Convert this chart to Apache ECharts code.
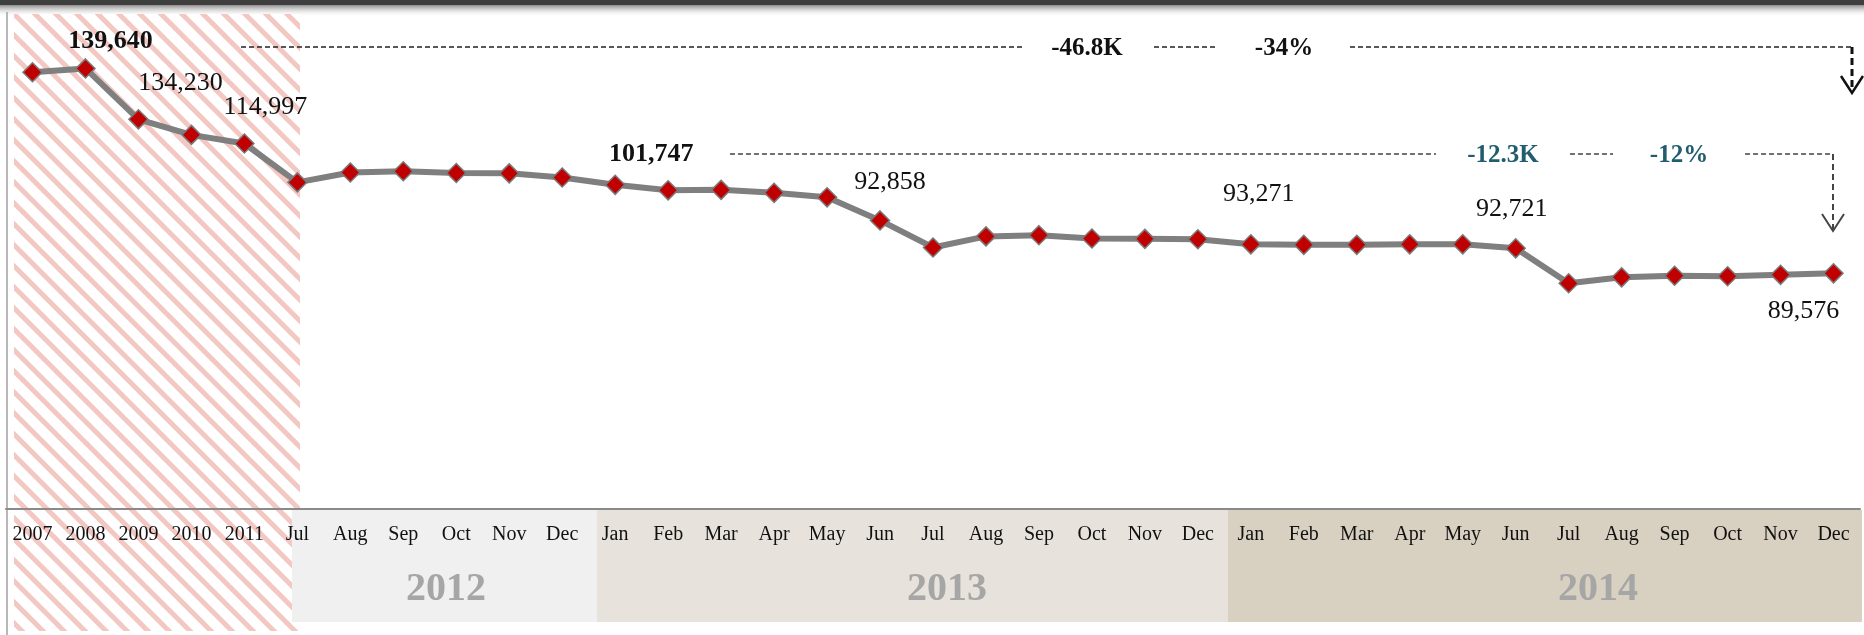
<!DOCTYPE html>
<html>
<head>
<meta charset="utf-8">
<title>trend</title>
<script src="https://cdn.jsdelivr.net/npm/echarts@6/dist/echarts.min.js"></script>
<style>
  html, body { margin: 0; padding: 0; background: #fff; }
  #main { width: 1864px; height: 635px; }
</style>
</head>
<body>
<div id="main"></div>
<script>
// categories: 5 years, then months Jul 2012 .. Dec 2014
var categories = ['2007', '2008', '2009', '2010', '2011',
  'Jul', 'Aug', 'Sep', 'Oct', 'Nov', 'Dec',
  'Jan', 'Feb', 'Mar', 'Apr', 'May', 'Jun', 'Jul', 'Aug', 'Sep', 'Oct', 'Nov', 'Dec',
  'Jan', 'Feb', 'Mar', 'Apr', 'May', 'Jun', 'Jul', 'Aug', 'Sep', 'Oct', 'Nov', 'Dec'];

var values = [138700, 139640, 127200, 123400, 121300,
  111800, 114200, 114500, 114100, 114000, 113000,
  111200, 109850, 109970, 109240, 108140, 102500, 95900, 98600, 98900, 98100, 98000, 97900,
  96660, 96540, 96540, 96660, 96660, 95680, 87140, 88600, 88970, 88850, 89210, 89576];

// text shown next to some points (index -> text)
var pointLabelIdx = [1, 2, 4, 11, 16, 23, 28, 34];
var pointLabelText = ['139,640', '134,230', '114,997', '101,747', '92,858', '93,271', '92,721', '89,576'];
var boldLabelIdx = [1, 11];

var yearNames = ['2012', '2013', '2014'];
var changeTotal = ['-46.8K', '-34%'];
var changeRecent = ['-12.3K', '-12%'];

// where each point label sits relative to its point
var labelOffsets = {1: [25, -27], 2: [42, -36], 4: [21, -36], 11: [36, -31],
  16: [10, -38], 23: [8, -50], 28: [-4, -39], 34: [-30, 38]};

var FONT = "'Liberation Serif', 'Times New Roman', serif";

function hatchPattern() {
  var p = 21;
  var c = document.createElement('canvas');
  c.width = p; c.height = p;
  var ctx = c.getContext('2d');
  ctx.fillStyle = '#ffffff';
  ctx.fillRect(0, 0, p, p);
  ctx.strokeStyle = '#f3c8c3';
  ctx.lineWidth = 5;
  for (var k = -1; k <= 1; k++) {
    ctx.beginPath();
    ctx.moveTo(k * p - 2, -2);
    ctx.lineTo(k * p + p + 2, p + 2);
    ctx.stroke();
  }
  return {image: c, repeat: 'repeat'};
}

var seriesData = values.map(function (v, i) {
  var k = pointLabelIdx.indexOf(i);
  if (k < 0) return v;
  return {
    value: v,
    label: {
      show: true,
      position: 'inside',
      offset: labelOffsets[i],
      formatter: pointLabelText[k],
      fontFamily: FONT,
      fontSize: 26,
      color: '#111',
      fontWeight: boldLabelIdx.indexOf(i) >= 0 ? 'bold' : 'normal'
    }
  };
});

function dash(x1, y1, x2, y2, color, w, dashArr) {
  return {
    type: 'line', z: 20, silent: true,
    shape: {x1: x1, y1: y1, x2: x2, y2: y2},
    style: {stroke: color, lineWidth: w, lineDash: dashArr || [5, 3]}
  };
}
function vArrow(x, y, color, w) {
  return {
    type: 'polyline', z: 20, silent: true,
    shape: {points: [[x - 11, y - 17], [x, y], [x + 11, y - 17]]},
    style: {stroke: color, lineWidth: w, fill: null}
  };
}
function txt(x, y, s, size, color, weight) {
  return {
    type: 'text', z: 20, silent: true, x: x, y: y,
    style: {text: s, fontFamily: FONT, fontSize: size, fill: color, fontWeight: weight || 'normal',
      align: 'center', verticalAlign: 'middle'}
  };
}

var graphics = [
  // top bar + shadow
  {type: 'rect', z: -5, shape: {x: 0, y: 0, width: 1864, height: 5}, style: {fill: '#3e3e3e'}},
  {type: 'rect', z: -5, shape: {x: 0, y: 5, width: 1864, height: 12},
    style: {fill: new echarts.graphic.LinearGradient(0, 0, 0, 1, [
      {offset: 0, color: '#8e8e8e'}, {offset: 1, color: 'rgba(255,255,255,0)'}])}},
  // left border
  {type: 'line', z: -5, shape: {x1: 7, y1: 12, x2: 7, y2: 635}, style: {stroke: '#a0a0a0', lineWidth: 1.5}},
  // hatched history
  {type: 'rect', z: -4, shape: {x: 14, y: 14, width: 286, height: 617}, style: {fill: hatchPattern()}},
  // year bands
  {type: 'rect', z: -3, shape: {x: 292, y: 510, width: 305, height: 112}, style: {fill: '#f0f0f0'}},
  {type: 'rect', z: -3, shape: {x: 597, y: 510, width: 631, height: 112}, style: {fill: '#e7e3dc'}},
  {type: 'rect', z: -3, shape: {x: 1228, y: 510, width: 634, height: 112}, style: {fill: '#d8d0c0'}},
  txt(446, 590, yearNames[0], 40, '#a6a6a6', 'bold'),
  txt(947, 590, yearNames[1], 40, '#a6a6a6', 'bold'),
  txt(1598, 590, yearNames[2], 40, '#a6a6a6', 'bold'),
  // total change annotation
  dash(241, 47, 1022, 47, '#222', 1.5),
  txt(1087, 49, changeTotal[0], 25, '#111', 'bold'),
  dash(1154, 47, 1216, 47, '#222', 1.5),
  txt(1284, 49, changeTotal[1], 25, '#111', 'bold'),
  dash(1350, 47, 1852, 47, '#222', 1.5),
  dash(1852, 47, 1852, 92, '#111', 3, [7, 4]),
  vArrow(1852, 93, '#111', 2.5),
  // recent change annotation
  dash(730, 154, 1436, 154, '#444', 1.5),
  txt(1503, 156, changeRecent[0], 25, '#215d6e', 'bold'),
  dash(1570, 154, 1613, 154, '#444', 1.5),
  txt(1679, 156, changeRecent[1], 25, '#215d6e', 'bold'),
  dash(1745, 154, 1833, 154, '#444', 1.5),
  dash(1833, 154, 1833, 229, '#444', 2, [6, 4]),
  vArrow(1833, 231, '#444', 2)
];

var myChart = echarts.init(document.getElementById('main'));
myChart.setOption({
  animation: false,
  backgroundColor: '#fff',
  grid: {left: 6, right: 4, top: 26, bottom: 126},
  xAxis: {
    type: 'category',
    data: categories,
    boundaryGap: true,
    z: 10,
    axisLine: {lineStyle: {color: '#8a8a8a', width: 2}},
    axisTick: {length: 6, lineStyle: {color: '#8a8a8a', width: 1.5}},
    axisLabel: {interval: 0, margin: 16, fontFamily: FONT, fontSize: 20, color: '#111'}
  },
  yAxis: {
    type: 'value',
    min: 32000,
    max: 150000,
    show: false,
    splitLine: {show: false}
  },
  series: [{
    type: 'line',
    z: 5,
    data: seriesData,
    symbol: 'diamond',
    symbolSize: 19,
    lineStyle: {color: '#7f7f7f', width: 6},
    itemStyle: {color: '#c00000', borderColor: '#7a7a7a', borderWidth: 1.5}
  }],
  graphic: graphics
});
</script>
</body>
</html>
